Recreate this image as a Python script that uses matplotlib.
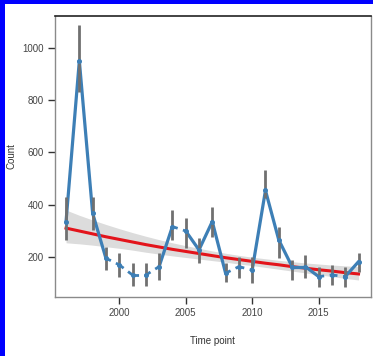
import matplotlib
matplotlib.use("Agg")
import matplotlib.pyplot as plt
from matplotlib.patches import Rectangle

years = list(range(1996, 2019))
counts = [336, 950, 368, 196, 171, 132, 132, 164, 317, 300, 228, 336, 139, 164, 151,
          455, 266, 164, 164, 126, 132, 126, 183]
ci_low = [266, 830, 304, 151, 126, 90, 90, 112, 266, 235, 177, 278, 107, 120, 100,
          425, 196, 113, 120, 88, 92, 86, 145]
ci_high = [431, 1085, 431, 240, 215, 177, 177, 215, 380, 349, 273, 393, 177, 202, 202,
           533, 317, 190, 208, 164, 170, 164, 215]
# True = significant change (solid), False = not significant (dashed), per interval
solid = [True, True, True, False, False, False, False, True, False, True, True, True,
         False, False, True, True, True, True, True, False, False, True]
trend = [311, 300, 289, 278, 268, 258, 248, 239, 230, 222, 214, 206, 198, 191, 184,
         177, 171, 164, 158, 152, 147, 141, 136]
trend_low = [255, 251, 246, 240, 234, 227, 219, 212, 205, 199, 193, 187, 181, 174, 168,
             161, 154, 147, 140, 133, 126, 119, 113]
trend_high = [380, 360, 342, 325, 309, 294, 280, 267, 255, 244, 234, 224, 215, 207, 200,
              194, 188, 183, 178, 174, 170, 167, 164]
xticks = [2000, 2005, 2010, 2015]
yticks = [200, 400, 600, 800, 1000]

plt.rcParams['font.family'] = ['Liberation Sans', 'DejaVu Sans']

fig = plt.figure(figsize=(3.73, 3.56), dpi=100)
ax = fig.add_axes([55/373, 1-297/356, (370.5-55)/373, (297-16)/356])

blue = '#3d7fb6'
ax.fill_between(years, trend_low, trend_high, color='#dcdcdc', lw=0, zorder=1)
ax.plot(years, trend, color='#e3141b', lw=2.2, zorder=2)

for i in range(len(years) - 1):
    ls = '-' if solid[i] else (0, (2, 2))
    ax.plot(years[i:i+2], counts[i:i+2], color=blue, lw=2.3 if solid[i] else 2.0,
            linestyle=ls, zorder=3, solid_capstyle='round')
ax.vlines(years, ci_low, ci_high, color='#707070', lw=2.0, zorder=4)
ax.plot(years, counts, 'o', color=blue, ms=2.6, zorder=5)

ax.set_xlim(1995.17, 2018.9)
ax.set_ylim(48, 1121)
ax.set_xticks(xticks)
ax.set_yticks(yticks)
ax.set_xticklabels([str(t) for t in xticks])
ax.set_yticklabels([str(t) for t in yticks])

for s in ['left', 'bottom', 'right']:
    ax.spines[s].set_color('#8a8a8a')
    ax.spines[s].set_linewidth(1.0)
ax.spines['top'].set_color('#222222')
ax.spines['top'].set_linewidth(1.2)
ax.tick_params(axis='both', length=5, width=1, color='#333333', labelsize=7,
               labelcolor='#444444', pad=3)

ax.set_xlabel('Time point', fontsize=7, color='#333333', labelpad=13)
ax.set_ylabel('Count', fontsize=7, color='#333333', labelpad=4)

fig.patches.append(Rectangle((0, 1-4/356), 1, 4/356, transform=fig.transFigure,
                             facecolor='#0000ff', edgecolor='none', lw=0, zorder=10))
fig.patches.append(Rectangle((0, 0), 5/373, 1, transform=fig.transFigure,
                             facecolor='#0000ff', edgecolor='none', lw=0, zorder=10))

fig.savefig('out.png', dpi=100, facecolor='white')
